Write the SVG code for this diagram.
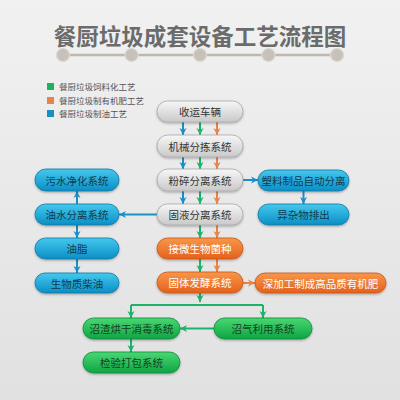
<svg xmlns="http://www.w3.org/2000/svg" width="400" height="400" viewBox="0 0 400 400">
<defs>
<linearGradient id="bg" x1="0" y1="0" x2="0" y2="1"><stop offset="0" stop-color="#f1f1f1"/><stop offset="1" stop-color="#e1e1e1"/></linearGradient>
<linearGradient id="gGray" x1="0" y1="0" x2="0" y2="1"><stop offset="0" stop-color="#f7f7f7"/><stop offset="1" stop-color="#c9c9c9"/></linearGradient>
<linearGradient id="gBlue" x1="0" y1="0" x2="0" y2="1"><stop offset="0" stop-color="#45c8ee"/><stop offset="1" stop-color="#0b8ec5"/></linearGradient>
<linearGradient id="gOrange" x1="0" y1="0" x2="0" y2="1"><stop offset="0" stop-color="#f8974a"/><stop offset="1" stop-color="#e4611b"/></linearGradient>
<linearGradient id="gGreen" x1="0" y1="0" x2="0" y2="1"><stop offset="0" stop-color="#48d872"/><stop offset="1" stop-color="#0fa444"/></linearGradient>
<filter id="sh" x="-10%" y="-20%" width="120%" height="150%"><feDropShadow dx="0" dy="1.2" stdDeviation="0.8" flood-color="#000" flood-opacity="0.3"/></filter>
<marker id="aB" markerUnits="userSpaceOnUse" markerWidth="8" markerHeight="8" refX="7" refY="4" orient="auto"><path d="M0,0.5 L7,4 L0,7.5 L2,4 z" fill="#1a8fc8"/></marker>
<marker id="aG" markerUnits="userSpaceOnUse" markerWidth="8" markerHeight="8" refX="7" refY="4" orient="auto"><path d="M0,0.5 L7,4 L0,7.5 L2,4 z" fill="#1db36a"/></marker>
<marker id="aO" markerUnits="userSpaceOnUse" markerWidth="8" markerHeight="8" refX="7" refY="4" orient="auto"><path d="M0,0.5 L7,4 L0,7.5 L2,4 z" fill="#e8834a"/></marker>
</defs>
<style>
.t{font-family:"Noto Sans CJK SC","Noto Sans",sans-serif;text-anchor:middle;dominant-baseline:central;font-size:10.5px}
.gray rect{fill:url(#gGray);stroke:#a8a8a8;stroke-width:0.8;filter:url(#sh)}
.gray text{fill:#333}
.blue rect{fill:url(#gBlue);stroke:#0c7aa6;stroke-width:0.8;filter:url(#sh)}
.blue text{fill:#123a4e}
.orange rect{fill:url(#gOrange);stroke:#c85616;stroke-width:0.8;filter:url(#sh)}
.orange text{fill:#fff}
.green rect{fill:url(#gGreen);stroke:#0d8a3a;stroke-width:0.8;filter:url(#sh)}
.green text{fill:#173d22}
.cb{stroke:#1a8fc8;stroke-width:2;fill:none;marker-end:url(#aB)}
.cg{stroke:#1db36a;stroke-width:2;fill:none;marker-end:url(#aG)}
.co{stroke:#e8834a;stroke-width:2;fill:none;marker-end:url(#aO)}
.lg{font-family:"Noto Sans CJK SC","Noto Sans",sans-serif;font-size:8.5px;fill:#555}
</style>
<rect x="0" y="0" width="400" height="400" fill="url(#bg)"/>
<g id="title">
<text x="200" y="35" font-family="'Noto Sans CJK SC','Noto Sans',sans-serif" font-size="22.5" font-weight="bold" fill="#6b6b6b" text-anchor="middle" dominant-baseline="central">餐厨垃圾成套设备工艺流程图</text>
<line x1="63" y1="55" x2="337" y2="55" stroke="#bdb8b0" stroke-width="2.5"/>
<g fill="#c6c1b9" stroke="#dcd8d2" stroke-width="1.2">
<circle cx="63" cy="55" r="6.5"/><circle cx="131.5" cy="55" r="6.5"/><circle cx="200" cy="55" r="6.5"/><circle cx="268.5" cy="55" r="6.5"/><circle cx="337" cy="55" r="6.5"/>
</g>
</g>
<g id="legend">
<rect x="47" y="83" width="7" height="7" fill="#1db35a"/>
<text class="lg" x="59" y="89.5">餐厨垃圾饲料化工艺</text>
<rect x="47" y="97" width="7" height="7" fill="#e8834a"/>
<text class="lg" x="59" y="103.5">餐厨垃圾制有机肥工艺</text>
<rect x="47" y="110" width="7" height="7" fill="#1a8fc0"/>
<text class="lg" x="59" y="116.5">餐厨垃圾制油工艺</text>
</g>
<g id="connectors">
<line class="cb" x1="183" y1="122" x2="183" y2="135"/>
<line class="cg" x1="200" y1="122" x2="200" y2="135"/>
<line class="co" x1="217" y1="122" x2="217" y2="135"/>
<line class="cb" x1="183" y1="157" x2="183" y2="169"/>
<line class="cg" x1="200" y1="157" x2="200" y2="169"/>
<line class="co" x1="217" y1="157" x2="217" y2="169"/>
<line class="cb" x1="183" y1="191" x2="183" y2="204"/>
<line class="cg" x1="200" y1="191" x2="200" y2="204"/>
<line class="co" x1="217" y1="191" x2="217" y2="204"/>
<line class="cg" x1="200" y1="225" x2="200" y2="238"/>
<line class="co" x1="217" y1="225" x2="217" y2="238"/>
<line class="cg" x1="200" y1="259" x2="200" y2="272"/>
<line class="co" x1="217" y1="259" x2="217" y2="272"/>
<line class="cb" x1="243" y1="180" x2="258" y2="180"/>
<line class="cb" x1="303.5" y1="191" x2="303.5" y2="204"/>
<line class="cb" x1="157" y1="214.5" x2="119" y2="214.5"/>
<line class="cb" x1="77" y1="204" x2="77" y2="191"/>
<line class="cb" x1="77" y1="225" x2="77" y2="238"/>
<line class="cb" x1="77" y1="259" x2="77" y2="273"/>
<line class="co" x1="243" y1="283" x2="255" y2="283"/>
<line class="cg" x1="200" y1="293" x2="200" y2="302"/>
<path d="M131,305 H263" stroke="#1db36a" stroke-width="2" fill="none"/>
<line class="cg" x1="131" y1="305" x2="131" y2="318"/>
<line class="cg" x1="263" y1="305" x2="263" y2="318"/>
<line class="cg" x1="214" y1="328.5" x2="180" y2="328.5"/>
<line class="cg" x1="131" y1="339" x2="131" y2="352"/>
</g>
<g id="n1" class="gray"><rect x="157" y="101" width="86" height="21" rx="10.5"/><text class="t" x="200" y="111.5">收运车辆</text></g>
<g id="n2" class="gray"><rect x="157" y="135" width="86" height="22" rx="11"/><text class="t" x="200" y="146">机械分拣系统</text></g>
<g id="n3" class="gray"><rect x="157" y="169" width="86" height="22" rx="11"/><text class="t" x="200" y="180">粉碎分离系统</text></g>
<g id="n4" class="gray"><rect x="157" y="204" width="86" height="21" rx="10.5"/><text class="t" x="200" y="214.5">固液分离系统</text></g>
<g id="n5" class="orange"><rect x="157" y="238" width="86" height="21" rx="10.5"/><text class="t" x="200" y="248.5">接微生物菌种</text></g>
<g id="n6" class="orange"><rect x="157" y="272" width="86" height="21" rx="10.5"/><text class="t" x="200" y="282.5">固体发酵系统</text></g>
<g id="n7" class="blue"><rect x="258" y="170" width="91" height="21" rx="10.5"/><text class="t" x="303.5" y="180.5">塑料制品自动分离</text></g>
<g id="n8" class="blue"><rect x="258" y="204" width="91" height="21" rx="10.5"/><text class="t" x="303.5" y="214.5">异杂物排出</text></g>
<g id="n9" class="blue"><rect x="35" y="169" width="84" height="22" rx="11"/><text class="t" x="77" y="180">污水净化系统</text></g>
<g id="n10" class="blue"><rect x="35" y="204" width="84" height="21" rx="10.5"/><text class="t" x="77" y="214.5">油水分离系统</text></g>
<g id="n11" class="blue"><rect x="35" y="238" width="84" height="21" rx="10.5"/><text class="t" x="77" y="248.5">油脂</text></g>
<g id="n12" class="blue"><rect x="35" y="273" width="84" height="20" rx="10"/><text class="t" x="77" y="283">生物质柴油</text></g>
<g id="n13" class="orange"><rect x="255" y="273" width="131" height="20" rx="10"/><text class="t" x="320.5" y="283">深加工制成高品质有机肥</text></g>
<g id="n14" class="green"><rect x="83" y="318" width="97" height="21" rx="10.5"/><text class="t" x="131.5" y="328.5">沼渣烘干消毒系统</text></g>
<g id="n15" class="green"><rect x="214" y="318" width="98" height="21" rx="10.5"/><text class="t" x="263" y="328.5">沼气利用系统</text></g>
<g id="n16" class="green"><rect x="83" y="352" width="97" height="21" rx="10.5"/><text class="t" x="131.5" y="362.5">检验打包系统</text></g>
</svg>
